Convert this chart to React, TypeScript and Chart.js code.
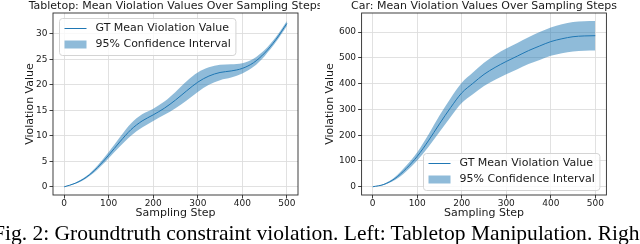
import React, { useEffect, useRef, useMemo } from "react";
import { Chart, registerables } from "chart.js";

Chart.register(...registerables);

// ---------------- data ----------------
const steps = [0, 25, 50, 75, 100, 125, 150, 175, 200, 225, 250, 275, 300, 325, 350, 375, 400, 425, 450, 475, 500];

const tabletopMean = [0, 0.7, 1.9, 3.8, 6.2, 8.8, 11.2, 12.9, 14.1, 15.4, 17.0, 18.8, 20.5, 21.7, 22.4, 22.7, 23.2, 24.3, 26.2, 28.8, 32.0];
const tabletopHalfCI = [0, 0.1, 0.2, 0.4, 0.6, 0.9, 1.2, 1.3, 1.2, 1.3, 1.6, 1.9, 1.9, 1.7, 1.5, 1.3, 1.0, 0.8, 0.6, 0.5, 0.5];

const carMean = [0, 9, 32, 70, 118, 178, 244, 307, 364, 401, 436, 463, 486, 507, 528, 546, 563, 574, 582, 585, 586];
const carHalfCI = [0, 2, 6, 11, 16, 24, 32, 36, 39, 42, 45, 48, 50, 51, 52, 54, 55, 56, 57, 57, 57];

const xTicks = [0, 100, 200, 300, 400, 500];
const tabletopYTicks = [0, 5, 10, 15, 20, 25, 30];
const carYTicks = [0, 100, 200, 300, 400, 500, 600];

const legendLabels = ["GT Mean Violation Value", "95% Confidence Interval"];
const tabletopTitle = "Tabletop: Mean Violation Values Over Sampling Steps";
const carTitle = "Car: Mean Violation Values Over Sampling Steps";
const xLabel = "Sampling Step";
const yLabel = "Violation Value";
const caption = "Fig. 2: Groundtruth constraint violation. Left: Tabletop Manipulation. Right: Car.";
const captionFitPart = "Fig. 2: Groundtruth constraint violation. Left: Tabletop Manipulation. Righ";

// ---------------- style ----------------
const FONT = "'DejaVu Sans', sans-serif";
const LINE_COLOR = "#1f77b4";
const FILL_COLOR = "rgba(31,119,180,0.5)";
const GRID_COLOR = "#dedede";
const SPINE_COLOR = "#2a2a2a";
const TEXT_COLOR = "#1a1a1a";

const framePlugin = {
  id: "mplFrame",
  afterDraw(chart: any, _args: any, opts: any) {
    const { ctx, chartArea: ca } = chart;
    ctx.save();
    ctx.strokeStyle = SPINE_COLOR;
    ctx.lineWidth = 0.9;
    ctx.strokeRect(ca.left, ca.top, ca.right - ca.left, ca.bottom - ca.top);

    // title (centered over the axes, not width-constrained)
    ctx.font = `11px ${FONT}`;
    ctx.fillStyle = TEXT_COLOR;
    ctx.textAlign = "center";
    ctx.textBaseline = "alphabetic";
    ctx.fillText(opts.title, (ca.left + ca.right) / 2, 9);

    // legend
    const tw = Math.max(...legendLabels.map((t) => ctx.measureText(t).width));
    const w = 5 + 22 + 9 + tw + 5;
    const h = 37;
    let x: number, y: number;
    if (opts.loc === "upper left") {
      x = ca.left + 6;
      y = ca.top + 5;
    } else {
      x = ca.right - 7 - w;
      y = ca.bottom - 5 - h;
    }
    x = Math.round(x) + 0.5;
    y = Math.round(y) + 0.5;
    ctx.beginPath();
    (ctx as any).roundRect(x, y, w, h, 3);
    ctx.fillStyle = "rgba(255,255,255,0.8)";
    ctx.fill();
    ctx.strokeStyle = "#d4d4d4";
    ctx.lineWidth = 1;
    ctx.stroke();

    const r1 = y + 10;
    const r2 = y + 26;
    ctx.strokeStyle = LINE_COLOR;
    ctx.lineWidth = 1;
    ctx.beginPath();
    ctx.moveTo(x + 5, r1);
    ctx.lineTo(x + 27, r1);
    ctx.stroke();
    ctx.fillStyle = FILL_COLOR;
    ctx.fillRect(x + 5, r2 - 4, 22, 8);

    ctx.fillStyle = TEXT_COLOR;
    ctx.textBaseline = "middle";
    ctx.textAlign = "left";
    ctx.fillText(legendLabels[0], x + 36, r1);
    ctx.fillText(legendLabels[1], x + 36, r2);
    ctx.restore();
  },
};

type Spec = {
  title: string;
  mean: number[];
  half: number[];
  yTicks: number[];
  yMin: number;
  yMax: number;
  yAxisWidth: number;
  yTitlePad: number;
  padRight: number;
  legendLoc: string;
};

function makeConfig(s: Spec): any {
  const upper = s.mean.map((m, i) => ({ x: steps[i], y: m + s.half[i] }));
  const lower = s.mean.map((m, i) => ({ x: steps[i], y: m - s.half[i] }));
  const mean = s.mean.map((m, i) => ({ x: steps[i], y: m }));
  const tickFont = { family: FONT, size: 9 };
  const labelFont = { family: FONT, size: 11, lineHeight: 1.2 };
  return {
    type: "line",
    data: {
      datasets: [
        { label: "lower", data: lower, borderWidth: 0, pointRadius: 0, fill: false, cubicInterpolationMode: "monotone", borderColor: "rgba(0,0,0,0)" },
        { label: legendLabels[1], data: upper, borderWidth: 0, pointRadius: 0, fill: "-1", backgroundColor: FILL_COLOR, cubicInterpolationMode: "monotone", borderColor: "rgba(0,0,0,0)" },
        { label: legendLabels[0], data: mean, borderWidth: 1, pointRadius: 0, fill: false, borderColor: LINE_COLOR, cubicInterpolationMode: "monotone" },
      ],
    },
    options: {
      responsive: false,
      animation: false,
      events: [],
      layout: { padding: { left: 0, right: s.padRight, top: 13, bottom: 0 } },
      plugins: {
        legend: { display: false },
        tooltip: { enabled: false },
        title: { display: false },
        mplFrame: { loc: s.legendLoc, title: s.title },
      },
      scales: {
        x: {
          type: "linear",
          min: -25,
          max: 525,
          afterBuildTicks: (sc: any) => {
            sc.ticks = xTicks.map((v) => ({ value: v }));
          },
          afterFit: (sc: any) => {
            sc.height = 27;
          },
          border: { display: false },
          grid: { color: GRID_COLOR, lineWidth: 0.9, tickColor: SPINE_COLOR, tickLength: 3.5, tickWidth: 0.9 },
          ticks: { font: tickFont, color: TEXT_COLOR, padding: 0, maxRotation: 0, autoSkip: false },
          title: { display: true, text: xLabel, color: TEXT_COLOR, font: labelFont, padding: { top: 0, bottom: 1.9 } },
        },
        y: {
          type: "linear",
          min: s.yMin,
          max: s.yMax,
          afterBuildTicks: (sc: any) => {
            sc.ticks = s.yTicks.map((v) => ({ value: v }));
          },
          afterFit: (sc: any) => {
            sc.width = s.yAxisWidth;
          },
          border: { display: false },
          grid: { color: GRID_COLOR, lineWidth: 0.9, tickColor: SPINE_COLOR, tickLength: 3.5, tickWidth: 0.9 },
          ticks: { font: tickFont, color: TEXT_COLOR, padding: 2, autoSkip: false },
          title: { display: true, text: yLabel, color: TEXT_COLOR, font: labelFont, padding: { top: s.yTitlePad, bottom: 0 } },
        },
      },
    },
    plugins: [framePlugin],
  };
}

function ChartPanel({ spec, left }: { spec: Spec; left: number }) {
  const ref = useRef<HTMLCanvasElement | null>(null);
  useEffect(() => {
    if (!ref.current) return;
    const chart = new Chart(ref.current, makeConfig(spec));
    return () => chart.destroy();
  }, []);
  return (
    <canvas
      ref={ref}
      width={320}
      height={222}
      style={{ position: "absolute", left, top: 0, width: 320, height: 222 }}
    />
  );
}

const leftSpec: Spec = {
  title: tabletopTitle,
  mean: tabletopMean,
  half: tabletopHalfCI,
  yTicks: tabletopYTicks,
  yMin: -1.6,
  yMax: 34.05,
  yAxisWidth: 53,
  yTitlePad: 23.4,
  padRight: 22,
  legendLoc: "upper left",
};

const rightSpec: Spec = {
  title: carTitle,
  mean: carMean,
  half: carHalfCI,
  yTicks: carYTicks,
  yMin: -32,
  yMax: 674,
  yAxisWidth: 41.6,
  yTitlePad: 3.7,
  padRight: 33.6,
  legendLoc: "lower right",
};

export default function App() {
  const captionSize = useMemo(() => {
    const c = document.createElement("canvas").getContext("2d");
    if (!c) return 19;
    c.font = "100px 'Liberation Serif'";
    const w = c.measureText(captionFitPart).width;
    return (647 / w) * 100;
  }, []);
  return (
    <div
      style={{
        position: "fixed",
        left: 0,
        top: 0,
        width: 640,
        height: 244,
        background: "#fff",
        overflow: "hidden",
      }}
    >
      <ChartPanel spec={leftSpec} left={0} />
      <ChartPanel spec={rightSpec} left={320} />
      <div
        style={{
          position: "absolute",
          left: -7,
          top: 223,
          whiteSpace: "nowrap",
          fontFamily: "'Liberation Serif', serif",
          fontSize: captionSize,
          lineHeight: "20px",
          color: "#000",
        }}
      >
        {caption}
      </div>
    </div>
  );
}
